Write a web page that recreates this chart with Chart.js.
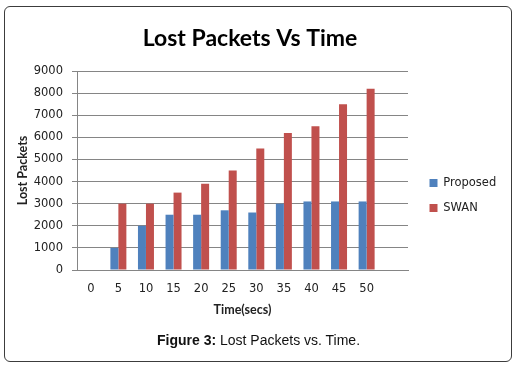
<!DOCTYPE html>
<html>
<head>
<meta charset="utf-8">
<script src="https://cdn.jsdelivr.net/npm/chart.js@4/dist/chart.umd.min.js"></script>
<style>
  html, body { margin: 0; padding: 0; background: #fff; }
  #frame {
    position: absolute; left: 4px; top: 6px; width: 508px; height: 356px;
    box-sizing: border-box; border: 1.5px solid #3c3c3c; border-radius: 6px;
  }
  #chart { position: absolute; left: 0; top: 0; }
  #caption {
    position: absolute; left: 0; top: 331px; width: 517px; line-height: 18px;
    text-align: center; font-size: 14px; color: #111;
    font-family: "Liberation Sans", Arial, sans-serif;
  }
</style>
</head>
<body>
<div id="frame"></div>
<canvas id="chart" width="519" height="368"></canvas>
<div id="caption"><b>Figure 3:</b> Lost Packets vs. Time.</div>
<script>
  // values
  const timeLabels = ['0', '5', '10', '15', '20', '25', '30', '35', '40', '45', '50', ''];
  const proposedLost = [0, 1000, 2000, 2500, 2500, 2700, 2600, 3000, 3100, 3100, 3100, null];
  const swanLost = [0, 3000, 3000, 3500, 3900, 4500, 5500, 6200, 6500, 7500, 8200, null];
  const yMax = 9000;
  const yStep = 1000;

  const gridColor = '#858585';
  const tickFont = { family: 'DejaVu Sans', size: 11.5 };
  const axisTitleFont = { family: 'Lato', size: 12.5, weight: 'bold' };

  // Excel puts the legend a bit away from the plot and lower than centre
  const legendShift = {
    id: 'legendShift',
    afterLayout(chart) {
      const lg = chart.legend;
      lg.left += 8;
      lg.right += 8;
      lg.top += 33;
      lg.bottom += 33;
    },
  };

  new Chart(document.getElementById('chart'), {
    type: 'bar',
    data: {
      labels: timeLabels,
      datasets: [
        { label: 'Proposed', data: proposedLost, backgroundColor: '#4F81BD', categoryPercentage: 0.58, barPercentage: 1 },
        { label: 'SWAN', data: swanLost, backgroundColor: '#C0504D', categoryPercentage: 0.58, barPercentage: 1 },
      ],
    },
    options: {
      responsive: false,
      animation: false,
      layout: { padding: { left: 12, top: 5, right: 31, bottom: 48 } },
      plugins: {
        title: {
          display: true,
          text: 'Lost Packets Vs Time',
          color: '#000',
          font: { family: 'Lato', size: 23, weight: 'bold' },
          padding: { top: 20.2, bottom: 18.2 },
        },
        legend: {
          position: 'right',
          maxWidth: 80,
          labels: { boxWidth: 8, boxHeight: 8, padding: 13.5, color: '#222', font: tickFont },
        },
        tooltip: { enabled: false },
      },
      scales: {
        x: {
          grid: { display: false, drawTicks: false, tickLength: 0 },
          border: { display: true, color: gridColor, width: 1 },
          ticks: { autoSkip: false, maxRotation: 0, padding: 12, color: '#222', font: tickFont },
          title: { display: true, text: 'Time(secs)', color: '#222', font: axisTitleFont, padding: { top: 0, bottom: 2.5 } },
          afterFit: (scale) => { scale.height = 50; },
        },
        y: {
          min: 0,
          max: yMax,
          grid: { color: gridColor, tickLength: 5 },
          border: { display: true, color: gridColor, width: 1 },
          ticks: { stepSize: yStep, padding: 9, color: '#222', font: tickFont, callback: (v) => String(v) },
          title: { display: true, text: 'Lost Packets', color: '#222', font: axisTitleFont, padding: { top: 3.5, bottom: 0 } },
          afterFit: (scale) => { scale.width = 65; },
        },
      },
    },
    plugins: [legendShift],
  });
</script>
</body>
</html>
